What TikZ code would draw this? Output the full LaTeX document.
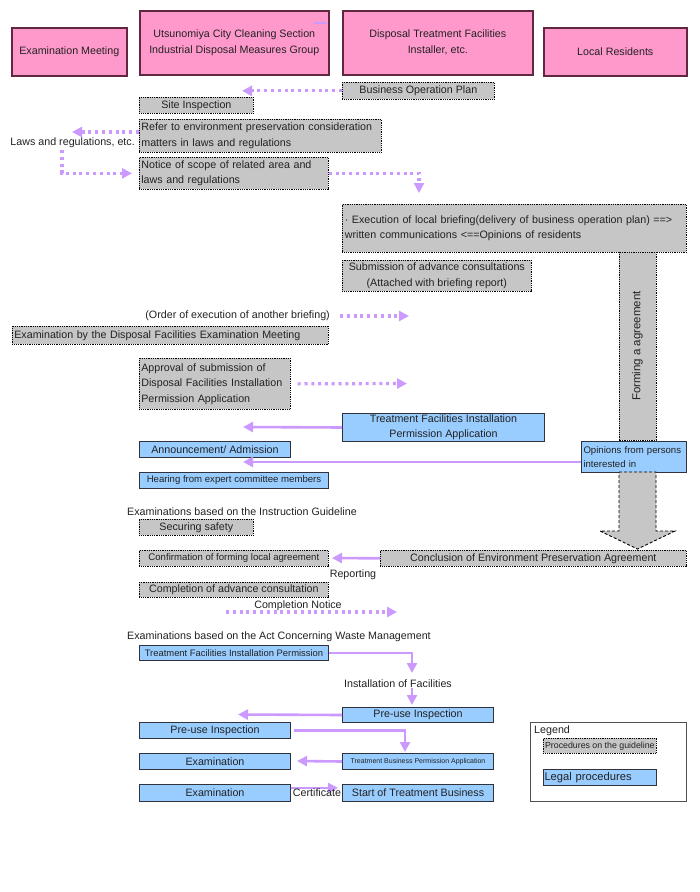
\documentclass[tikz,border=0pt]{standalone}
\usepackage{fontspec}
\setmainfont{Liberation Sans}
\usetikzlibrary{arrows.meta}
\definecolor{pinkf}{RGB}{255,153,204}
\definecolor{pinkd}{RGB}{96,40,64}
\definecolor{grayf}{RGB}{198,198,198}
\definecolor{bluef}{RGB}{153,204,255}
\definecolor{blued}{RGB}{50,50,60}
\definecolor{lav}{RGB}{204,153,255}
\definecolor{txt}{RGB}{34,34,34}
\newcommand\fsM{\fontsize{10.7}{15.5}\selectfont}
\newcommand\fsS{\fontsize{9.6}{13.5}\selectfont}
\newcommand\fsT{\fontsize{7}{9}\selectfont}
\newcommand\mybox[8][]{%
  \pgfmathsetmacro\myBW{#6-#4}\pgfmathsetmacro\myBH{#7-#5}%
  \node[#2,minimum width=\myBW pt,minimum height=\myBH pt,anchor=north west,#1] (#3) at (#4,#5) {#8};}
\tikzset{
  box/.style={rectangle, inner xsep=2pt, inner ysep=0pt, font=\fsM, text=txt, align=center},
  pbox/.style={box, fill=pinkf, draw=pinkd, line width=1.6pt},
  gbox/.style={box, fill=grayf, draw=black, line width=0.7pt, dash pattern=on 0.9pt off 0.9pt},
  bbox/.style={box, fill=bluef, draw=blued, line width=1pt},
  lbl/.style={font=\fsM, text=txt, inner sep=0pt},
  solidarr/.style={draw=lav, line width=2.6pt, -{Triangle[length=10pt,width=10pt]}},
  dotarr/.style={draw=lav, line width=3.2pt, dash pattern=on 3pt off 3.8pt, -{Triangle[length=10pt,width=10pt]}},
}
\begin{document}
\begin{tikzpicture}[x=1pt,y=-1pt]
\useasboundingbox[fill=white] (0,0) rectangle (700,892);
% header boxes
\mybox{pbox}{em}{11}{27}{126}{75}{Examination Meeting}
\mybox[font=\fontsize{10.7}{16}\selectfont]{pbox}{ucs}{139}{10}{328}{74}{Utsunomiya City Cleaning Section\\Industrial Disposal Measures Group}
\mybox[font=\fontsize{10.7}{16}\selectfont]{pbox}{dtf}{342}{10}{532}{74}{Disposal Treatment Facilities\\Installer, etc.}
\mybox{pbox}{lr}{543}{27}{686}{75}{Local Residents}
\draw[lav, line width=1.8pt] (314,23) -- (327,23);
% guideline procedures
\mybox{gbox}{bop}{342}{82}{494}{99}{Business Operation Plan}
\mybox{gbox}{si}{139}{97}{253}{113}{Site Inspection}
\mybox[align=left,text width=238pt]{gbox}{ref}{139}{119}{381}{152}{Refer to environment preservation consideration\\matters in laws and regulations}
\mybox[align=left,text width=185pt]{gbox}{nos}{139}{157}{328}{189}{Notice of scope of related area and\\laws and regulations}
\mybox[align=left,text width=339pt]{gbox}{exe}{342}{204}{686}{252}{· Execution of local briefing(delivery of business operation plan) ==>\\written communications <==Opinions of residents}
\mybox{gbox}{sub}{342}{260}{531}{291}{Submission of advance consultations\\(Attached with briefing report)}
\node[gbox, rotate=90, minimum width=188pt, minimum height=37pt, font=\fontsize{11.5}{13}\selectfont] (fa) at (637.5,346) {Forming a agreement};
\mybox[align=left,text width=312pt]{gbox}{edf}{12}{326}{328}{344}{Examination by the Disposal Facilities Examination Meeting}
\mybox[align=left,text width=147pt]{gbox}{app}{139}{358}{290}{409}{Approval of submission of\\Disposal Facilities Installation\\Permission Application}
\mybox{gbox}{ss}{139}{519}{253}{535}{Securing safety}
\mybox[font=\fsS]{gbox}{cfa}{139}{550}{328}{566}{Confirmation of forming local agreement}
\mybox{gbox}{cepa}{380}{550}{686}{566}{Conclusion of Environment Preservation Agreement}
\mybox{gbox}{cac}{139}{582}{328}{597}{Completion of advance consultation}
% legal procedures
\mybox[font=\fontsize{10.7}{15}\selectfont]{bbox}{tfipa}{342}{413}{544}{441}{Treatment Facilities Installation\\Permission Application}
\mybox{bbox}{aa}{139}{441}{290}{457}{Announcement/ Admission}
\mybox[font=\fsS,align=left,text width=101pt]{bbox}{op}{581}{441}{686}{472}{Opinions from persons\\interested in}
\mybox[font=\fsS]{bbox}{hem}{139}{472}{328}{488}{Hearing from expert committee members}
\mybox[font=\fontsize{9.4}{11}\selectfont]{bbox}{tfip}{139}{645}{328}{660}{Treatment Facilities Installation Permission}
\mybox{bbox}{pur}{342}{707}{493}{722}{Pre-use Inspection}
\mybox{bbox}{pul}{139}{722}{290}{738}{Pre-use Inspection}
\mybox[font=\fsT]{bbox}{tbpa}{342}{753}{493}{769}{Treatment Business Permission Application}
\mybox{bbox}{ex1}{139}{753}{290}{769}{Examination}
\mybox{bbox}{ex2}{139}{784}{290}{801}{Examination}
\mybox{bbox}{stb}{342}{784}{493}{801}{Start of Treatment Business}
% big dashed arrow
\draw[fill=grayf, draw=black, line width=0.9pt, dash pattern=on 3pt off 2pt]
  (619,472) -- (656,472) -- (656,531) -- (675,531) -- (637.5,549) -- (600,531) -- (619,531) -- cycle;
% labels
\node[lbl, anchor=east] (laws) at (135,143) {Laws and regulations, etc.};
\node[lbl, anchor=east] (order) at (330,316) {(Order of execution of another briefing)};
\node[lbl, anchor=west] (igl) at (127,512) {Examinations based on the Instruction Guideline};
\node[lbl] (rep) at (353,575) {Reporting};
\node[lbl] (cn) at (298,606) {Completion Notice};
\node[lbl, anchor=west] (act) at (127,637) {Examinations based on the Act Concerning Waste Management};
\node[lbl] (inst) at (398,684) {Installation of Facilities};
% coordinates
\coordinate (c1) at (242,90);
\coordinate (c2) at (72,132);
\coordinate (c3) at (62,150);
\coordinate (c4) at (419,193);
\coordinate (c5) at (409,316);
\coordinate (c6) at (407,383.5);
\coordinate (c7) at (243,427);
\coordinate (c8) at (243,462);
\coordinate (c9) at (332,558);
\coordinate (c10a) at (226,612);
\coordinate (c10b) at (397,612);
\coordinate (c11) at (412,673);
\coordinate (c13) at (238,714.5);
\coordinate (c14) at (405,752);
\coordinate (c15) at (297,761);
\coordinate (c16) at (338,788);
% connectors
\draw[dotarr] (bop.west) -- (bop.west -| c1);
\draw[dotarr] (ref.west |- c2) -- (c2);
\draw[dotarr] (c3) |- ([xshift=-7pt]nos.west);
\draw[dotarr] (nos.east) -| (c4);
\draw[dotarr] ([xshift=10pt]order.east) -- (c5);
\draw[dotarr] ([xshift=7pt]app.east) -- (c6);
\draw[solidarr] (tfipa.west) -- (c7);
\draw[solidarr] (op.west |- c8) -- (c8);
\draw[solidarr] (cepa.west) -- (c9);
\draw[dotarr] (c10a) -- (c10b);
\draw[solidarr] (tfip.east) -| (c11);
\draw[solidarr] (inst.south -| c11) -- ([yshift=2pt]pur.north -| c11);
\draw[solidarr] (pur.west) -- (c13);
\draw[solidarr] ([xshift=3pt]pul.east) -| (c14);
\draw[solidarr] (tbpa.west) -- (c15);
\draw[solidarr] (ex2.east |- c16) -- (c16);
\node[lbl] (cert) at (317,793) {Certificate};
% legend
\draw[draw={rgb,255:red,80;green,80;blue,80}, line width=0.9pt] (530,722) rectangle (686,801);
\node[lbl, anchor=west] (leg) at (534,731) {Legend};
\mybox[font=\fontsize{8.8}{10}\selectfont,inner xsep=0.5pt]{gbox}{lg1}{543}{738}{656}{753}{Procedures on the guideline}
\mybox[font=\fontsize{11.2}{13}\selectfont,align=left,text width=111pt,inner xsep=1pt]{bbox}{lg2}{543}{769}{656}{785}{Legal procedures}
\end{tikzpicture}
\end{document}
